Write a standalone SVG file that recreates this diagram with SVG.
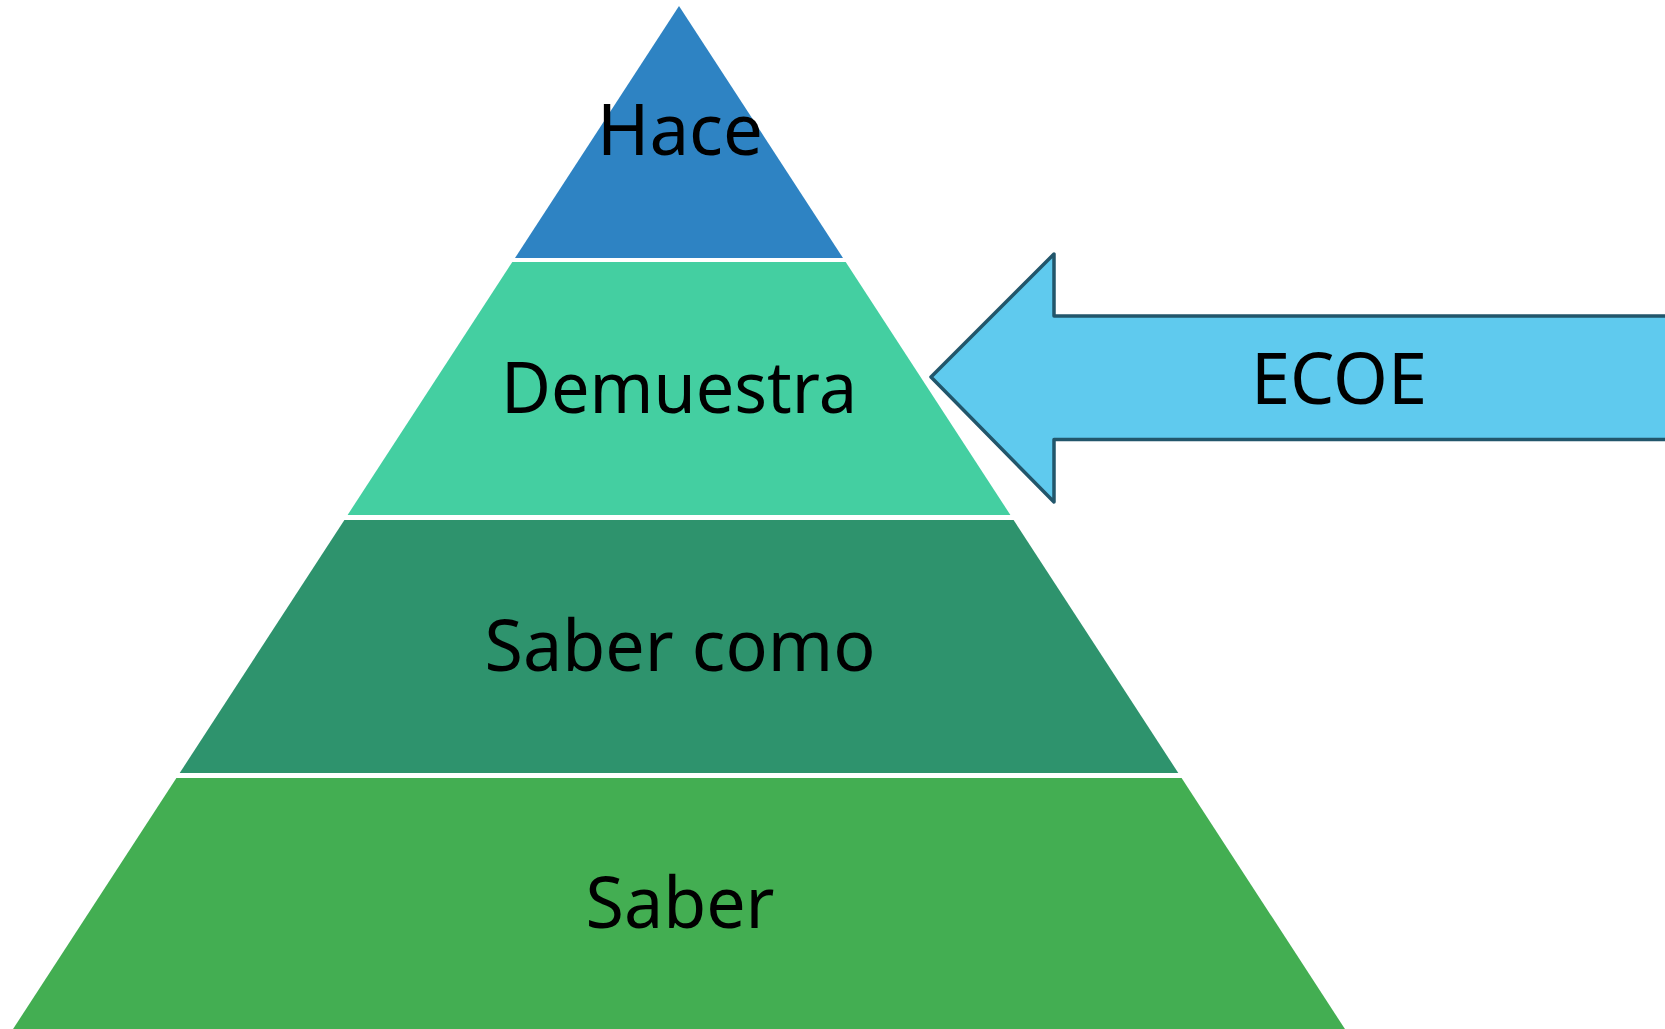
<svg xmlns="http://www.w3.org/2000/svg" width="1665" height="1029" viewBox="0 0 1665 1029">
<style>
.lbl{font-family:"Noto Sans","Open Sans","Liberation Sans",sans-serif;font-size:72px;fill:#000;text-anchor:middle}
.band{stroke:none}
</style>
<rect width="1665" height="1029" fill="#fff"/>
<g id="level-hace">
<polygon class="band" points="679,6 843,258 515,258" fill="#2E83C3"/>
<text class="lbl" x="680" y="155" textLength="166" lengthAdjust="spacingAndGlyphs">Hace</text>
</g>
<g id="level-demuestra">
<polygon class="band" points="512.3,262 845.7,262 1010.4,515 347.6,515" fill="#44CFA1"/>
<text class="lbl" x="679" y="413" textLength="356" lengthAdjust="spacingAndGlyphs">Demuestra</text>
</g>
<g id="level-sabercomo">
<polygon class="band" points="344.4,520 1013.6,520 1178.3,773 179.7,773" fill="#2E936D"/>
<text class="lbl" x="680" y="671" textLength="391" lengthAdjust="spacingAndGlyphs">Saber como</text>
</g>
<g id="level-saber">
<polygon class="band" points="176.4,778 1181.6,778 1352.1,1040 5.9,1040" fill="#43AE52"/>
<text class="lbl" x="680" y="928" textLength="189" lengthAdjust="spacingAndGlyphs">Saber</text>
</g>
<g id="arrow-ecoe">
<polygon points="931,377 1054,254 1054,316 1680,316 1680,439.5 1054,439.5 1054,502" fill="#5FCAEE" stroke="#22566B" stroke-width="3.5" stroke-linejoin="round"/>
<text class="lbl" x="1339" y="404" textLength="176" lengthAdjust="spacingAndGlyphs">ECOE</text>
</g>
<g id="connectors"/>
</svg>
